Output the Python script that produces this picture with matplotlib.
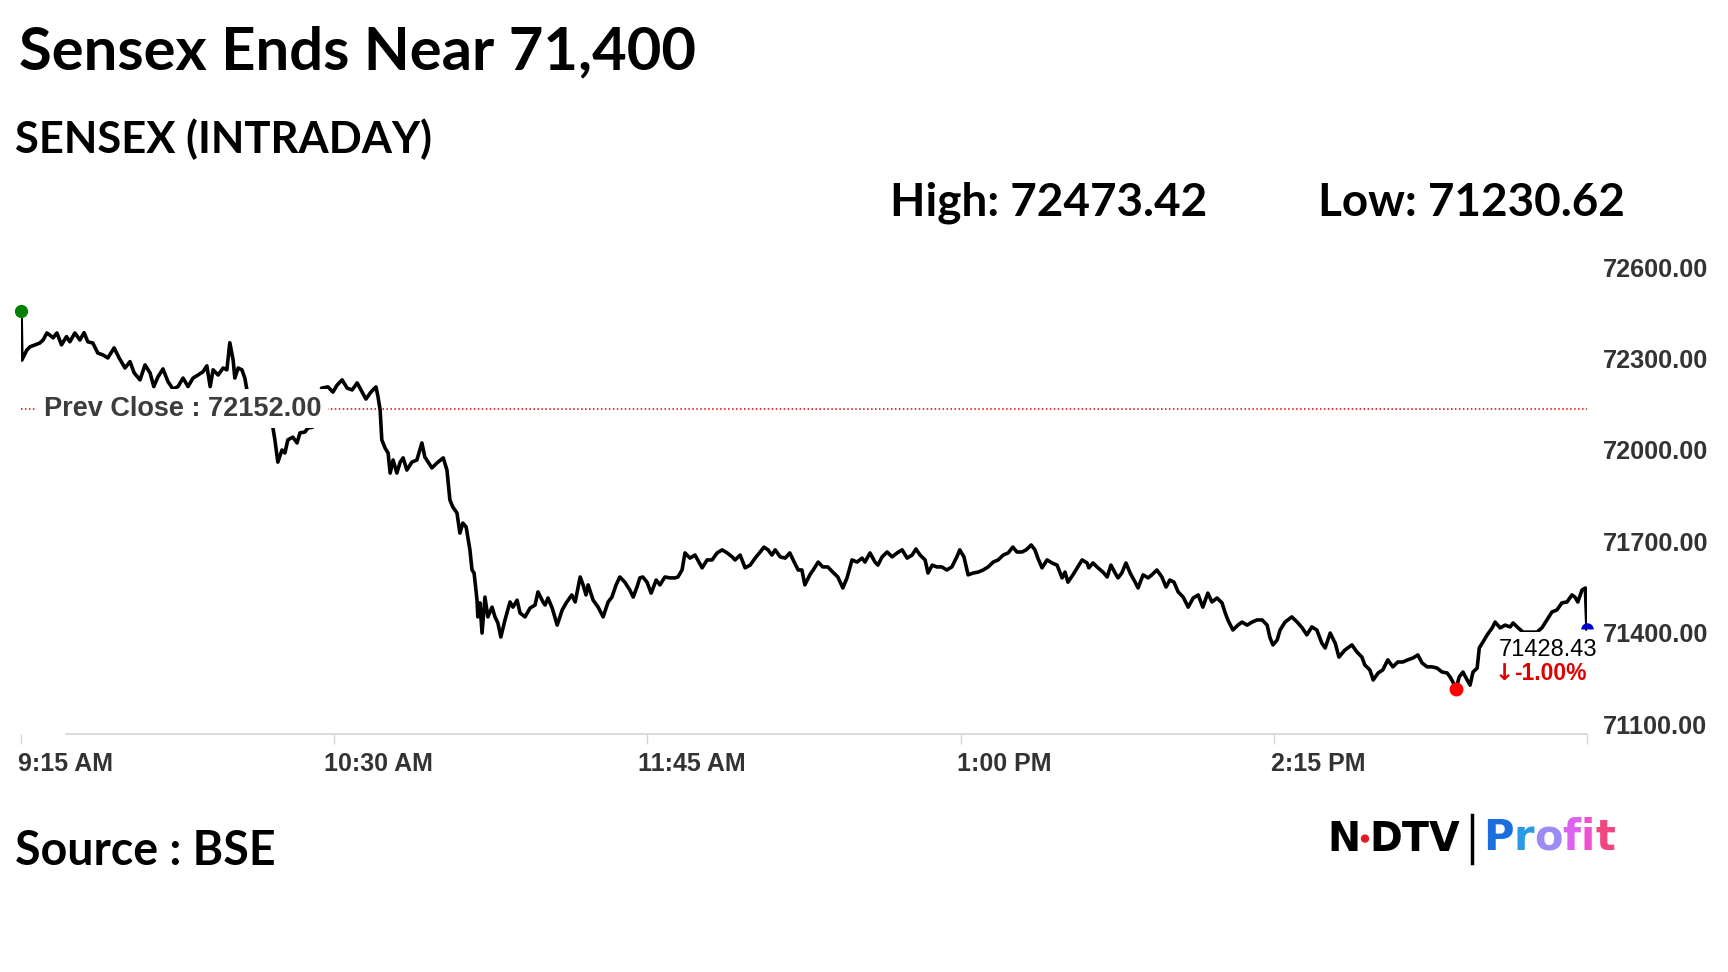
"""
Sensex intraday chart (NDTV Profit style).
"""
import matplotlib
matplotlib.use('Agg')
import numpy as np
import matplotlib.pyplot as plt
from matplotlib.transforms import ScaledTranslation
from matplotlib.offsetbox import TextArea, HPacker, DrawingArea, AnnotationBbox
from matplotlib.patches import Circle
from matplotlib.lines import Line2D

# minutes after the 9:15 open, and index level
mins = [
    0, 0.2, 1.4, 2.2, 3.4, 4.5, 5.3, 6.2, 6.9, 7.7,
    8.6, 9.7, 10.9, 11.7, 12.9, 14.1, 15.1, 16.0, 17.2, 18.4,
    19.6, 20.8, 22.3, 23.5, 24.9, 26.1, 27.1, 28.5, 29.7, 30.9,
    31.8, 32.8, 34.0, 35.2, 36.4, 37.6, 38.8, 40.0, 41.2, 42.4,
    43.6, 44.5, 45.3, 46.0, 47.2, 48.4, 49.3, 50.0, 50.8, 51.2,
    52.0, 52.9, 53.6, 54.1, 57.0, 60.3, 60.8, 61.5, 62.5, 63.2,
    63.9, 65.1, 66.1, 66.8, 68.0, 68.7, 69.9, 71.0, 72.0, 73.5,
    74.7, 75.7, 76.9, 78.1, 79.3, 80.5, 81.7, 82.6, 83.8, 85.0,
    85.5, 86.0, 86.4, 87.2, 87.9, 88.4, 89.1, 90.0, 90.8, 91.5,
    92.4, 93.6, 94.8, 96.0, 96.7, 97.5, 98.4, 99.6, 101.1, 102.0,
    102.7, 103.4, 104.4, 105.1, 105.8, 106.6, 107.5, 108.0, 108.5, 109.2,
    109.4, 109.9, 110.4, 111.1, 111.8, 112.8, 113.5, 114.2, 114.9, 115.9,
    117.1, 117.8, 118.8, 119.5, 120.7, 121.9, 123.1, 123.8, 125.0, 125.5,
    126.2, 127.2, 128.4, 129.6, 130.7, 131.9, 132.7, 133.9, 134.6, 135.3,
    135.8, 137.0, 138.2, 139.4, 140.6, 141.5, 142.5, 143.4, 144.6, 145.8,
    146.6, 147.5, 148.2, 148.9, 149.9, 150.9, 152.1, 153.0, 154.2, 155.4,
    156.6, 157.3, 158.3, 159.0, 160.2, 161.4, 163.1, 164.3, 165.5, 166.7,
    167.9, 169.1, 170.3, 171.0, 172.2, 173.4, 174.6, 175.8, 177.0, 177.9,
    178.9, 179.8, 180.6, 181.8, 183.0, 184.1, 184.9, 186.1, 187.0, 187.7,
    188.9, 189.7, 190.9, 192.0, 193.2, 194.4, 195.6, 196.8, 197.8, 199.0,
    200.2, 201.4, 202.1, 203.3, 204.5, 205.2, 206.2, 207.4, 208.6, 209.8,
    211.0, 212.2, 213.4, 214.3, 215.3, 216.5, 217.2, 218.2, 219.3, 220.5,
    221.7, 222.9, 224.1, 224.8, 225.8, 226.8, 228.0, 229.2, 230.4, 231.6,
    232.8, 234.0, 235.2, 236.4, 237.5, 238.5, 239.7, 240.7, 241.9, 242.8,
    243.5, 244.5, 245.7, 246.9, 248.1, 249.3, 250.0, 250.7, 251.9, 254.1,
    255.3, 255.7, 256.7, 257.9, 259.1, 260.1, 261.0, 262.0, 262.7, 263.6,
    264.6, 265.6, 266.8, 267.5, 268.7, 269.9, 270.8, 272.0, 273.2, 274.2,
    275.1, 276.1, 277.1, 278.3, 279.5, 280.7, 281.9, 283.0, 284.2, 285.2,
    286.4, 287.6, 288.3, 289.0, 290.2, 291.4, 292.4, 293.6, 294.8, 296.0,
    297.2, 298.4, 299.1, 299.8, 300.8, 301.5, 302.7, 304.3, 305.6, 306.8,
    307.9, 309.1, 310.3, 311.5, 312.3, 313.5, 314.7, 315.6, 317.0, 318.7,
    319.9, 321.1, 321.8, 323.0, 323.8, 325.0, 326.1, 327.3, 328.5, 329.7,
    330.9, 332.1, 333.3, 334.5, 335.5, 336.7, 337.9, 339.1, 340.3, 341.5,
    342.2, 342.9, 343.6, 344.4, 345.3, 346.3, 347.0, 347.7, 348.7, 349.2,
    350.1, 351.1, 352.3, 353.0, 354.2, 355.4, 356.6, 357.3, 358.5, 359.7,
    361.3, 363.0, 364.2, 365.4, 366.6, 367.8, 369.0, 370.2, 371.4, 372.1,
    372.8, 373.8, 374.6, 375.0,
]
sensex = [
    72473.42, 72311, 72344, 72355, 72361, 72367, 72377, 72400, 72393, 72384,
    72400, 72361, 72388, 72371, 72400, 72377, 72401, 72371, 72367, 72334,
    72328, 72318, 72351, 72318, 72285, 72306, 72269, 72246, 72295, 72269,
    72224, 72256, 72282, 72240, 72216, 72224, 72252, 72224, 72252, 72262,
    72273, 72292, 72224, 72279, 72262, 72285, 72279, 72368, 72311, 72252,
    72285, 72279, 72252, 72213, 72150, 72091, 72049, 71976, 72016, 72006,
    72049, 72058, 72039, 72072, 72075, 72088, 72091, 72150, 72219, 72223,
    72206, 72229, 72246, 72219, 72213, 72236, 72206, 72183, 72206, 72223,
    72190, 72147, 72049, 72022, 72006, 71940, 71983, 71940, 71976, 71990,
    71950, 71976, 71983, 72039, 71993, 71976, 71957, 71973, 71990, 71950,
    71852, 71829, 71809, 71743, 71776, 71763, 71688, 71622, 71612, 71523,
    71468, 71514, 71415, 71533, 71468, 71500, 71468, 71448, 71402, 71458,
    71517, 71500, 71523, 71481, 71468, 71497, 71507, 71550, 71517, 71507,
    71530, 71497, 71441, 71491, 71517, 71540, 71517, 71599, 71573, 71540,
    71573, 71523, 71500, 71468, 71517, 71533, 71573, 71599, 71582, 71556,
    71533, 71566, 71596, 71599, 71582, 71546, 71589, 71573, 71599, 71596,
    71596, 71599, 71622, 71678, 71661, 71671, 71629, 71655, 71655, 71678,
    71688, 71678, 71665, 71655, 71671, 71629, 71638, 71661, 71681, 71697,
    71688, 71671, 71688, 71665, 71661, 71678, 71655, 71622, 71622, 71573,
    71606, 71622, 71648, 71632, 71632, 71615, 71599, 71563, 71596, 71655,
    71648, 71661, 71648, 71678, 71648, 71638, 71665, 71681, 71665, 71678,
    71688, 71661, 71671, 71691, 71671, 71655, 71612, 71638, 71632, 71632,
    71622, 71632, 71665, 71688, 71665, 71606, 71612, 71615, 71622, 71632,
    71648, 71655, 71671, 71678, 71697, 71681, 71681, 71688, 71704, 71688,
    71661, 71629, 71655, 71645, 71638, 71596, 71615, 71582, 71606, 71655,
    71645, 71629, 71645, 71629, 71615, 71599, 71638, 71612, 71596, 71612,
    71645, 71612, 71582, 71563, 71606, 71596, 71606, 71622, 71599, 71566,
    71589, 71582, 71550, 71533, 71500, 71530, 71540, 71500, 71546, 71517,
    71530, 71514, 71484, 71458, 71425, 71441, 71451, 71441, 71451, 71458,
    71458, 71441, 71399, 71376, 71392, 71425, 71451, 71468, 71451, 71432,
    71409, 71435, 71425, 71382, 71366, 71415, 71382, 71336, 71359, 71376,
    71353, 71336, 71310, 71294, 71261, 71284, 71294, 71327, 71304, 71320,
    71320, 71327, 71333, 71343, 71317, 71304, 71304, 71300, 71287, 71284,
    71271, 71254, 71230.62, 71271, 71287, 71261, 71244, 71287, 71300, 71366,
    71386, 71409, 71432, 71451, 71432, 71441, 71435, 71448, 71432, 71418,
    71418, 71418, 71432, 71458, 71484, 71491, 71514, 71517, 71540, 71533,
    71517, 71556, 71563, 71428.43,
]
prev_close = 72152.00

tick_mins = [0, 75, 150, 225, 300, 375]
tick_labels = ['9:15 AM', '10:30 AM', '11:45 AM', '1:00 PM', '2:15 PM', '']
price_ticks = [71100, 71400, 71700, 72000, 72300, 72600]

profit_colors = ['#1a6ee0', '#2a9ae6', '#9a8cf3', '#dc62f0', '#f24ed2', '#f0477e']


def plot_sensex():
    plt.rcParams['font.family'] = ['Liberation Sans', 'DejaVu Sans']
    W, H = 1728, 972
    fig = plt.figure(figsize=(W / 100, H / 100), dpi=100)
    fig.patch.set_facecolor('white')

    def fx(px):
        return px / W

    def fy(py):
        return 1 - py / H

    ax = fig.add_axes([fx(21), fy(734), fx(1587) - fx(21), fy(260) - fy(734)])
    ax.set_xlim(0, 375)
    ax.set_ylim(71083.6, 72639.5)

    x = np.array(mins)
    y = np.array(sensex)
    last = y[-1]
    i_low = int(np.argmin(y))

    ax.plot(x, y, color='black', lw=2.6, zorder=3)
    ax.axhline(prev_close, color='#e00000', lw=1.1, ls=(0, (1, 1.6)), zorder=2)
    ax.text(5.5, prev_close, f'Prev Close : {prev_close:.2f}', fontsize=19.5,
            fontweight='bold', color='#3c3c3c', ha='left', va='center', zorder=6,
            bbox=dict(boxstyle='square,pad=0.25', fc='white', ec='none'))

    # markers: open, day low, close
    ax.plot(x[0], y[0], 'o', color='#008000', ms=8.5, clip_on=False, zorder=5)
    ax.plot(x[i_low], y[i_low], 'o', color='#ff0000', ms=9, clip_on=False, zorder=5)
    ax.plot(x[-1], last, marker='o', fillstyle='top', color='#0000cc', mew=0,
            ms=9, clip_on=False, zorder=5)

    change = (last - prev_close) / prev_close * 100
    ax.annotate(f'{last:.2f}', xy=(x[-1], last), xytext=(10, -21),
                textcoords='offset pixels', ha='right', va='center', fontsize=17,
                color='black', zorder=6, annotation_clip=False,
                bbox=dict(boxstyle='square,pad=0.3', fc='white', ec='none'))
    ax.annotate(f'{change:.2f}%', xy=(x[-1], last), xytext=(0, -45),
                textcoords='offset pixels', ha='right', va='center', fontsize=16.5,
                fontweight='bold', color='#e00000', zorder=6, annotation_clip=False)
    ax.annotate('\u2193', xy=(x[-1], last), xytext=(-73, -45),
                textcoords='offset pixels', ha='right', va='center', fontsize=16.5,
                fontweight='bold', family='DejaVu Sans', color='#e00000', zorder=6,
                annotation_clip=False)

    # axes styling
    for s in ['top', 'left', 'right']:
        ax.spines[s].set_visible(False)
    ax.spines['bottom'].set_color('#d6d6d6')
    ax.spines['bottom'].set_linewidth(1.2)
    ax.spines['bottom'].set_bounds(10.8, 375)

    ax.set_xticks(tick_mins)
    ax.set_xticklabels(tick_labels)
    ax.tick_params(axis='x', length=7, width=1, color='#d6d6d6', pad=6,
                   labelsize=18, labelcolor='#333333')
    ax.yaxis.tick_right()
    ax.set_yticks(price_ticks)
    ax.set_yticklabels([f'{v:.2f}' for v in price_ticks])
    ax.tick_params(axis='y', length=0, pad=11.5, labelsize=18.2, labelcolor='#333333')
    for lbl in ax.get_xticklabels():
        lbl.set_fontweight('bold')
        lbl.set_transform(lbl.get_transform() + ScaledTranslation(0.44, 0, fig.dpi_scale_trans))
    for lbl in ax.get_yticklabels():
        lbl.set_fontweight('bold')
        lbl.set_transform(lbl.get_transform() + ScaledTranslation(0, 0.05, fig.dpi_scale_trans))

    # headings
    head = dict(family=['Lato', 'DejaVu Sans'], fontweight='bold', color='black', va='baseline')
    fig.text(fx(19), fy(69.5), 'Sensex Ends Near 71,400', fontsize=43, **head)
    fig.text(fx(15), fy(153), 'SENSEX (INTRADAY)', fontsize=31.3, **head)
    fig.text(fx(890), fy(216), f'High: {y.max():.2f}', fontsize=33, **head)
    fig.text(fx(1318), fy(216), f'Low: {y.min():.2f}', fontsize=33, **head)
    fig.text(fx(15), fy(865), 'Source : BSE', fontsize=33.5, **head)

    # logo
    logo_font = dict(family='DejaVu Sans', fontweight='bold', fontsize=28.5, color='black')
    dot = DrawingArea(7, 24, 0, 0)
    dot.add_artist(Circle((3.5, 13), 3.0, fc='#e31b23', ec='none'))
    ndtv = HPacker(children=[TextArea('N', textprops=logo_font), dot,
                             TextArea('DTV', textprops=logo_font)],
                   sep=0, pad=0, align='center')
    fig.add_artist(AnnotationBbox(ndtv, (fx(1327), fy(840)), xycoords='figure fraction',
                                  box_alignment=(0, 0.5), frameon=False, pad=0))
    fig.add_artist(Line2D([fx(1472), fx(1472)], [fy(815), fy(863)], color='black',
                          lw=2.5, transform=fig.transFigure))
    letters = [TextArea(ch, textprops=dict(family='DejaVu Sans', fontweight='bold',
                                           fontsize=30, color=c))
               for ch, c in zip('Profit', profit_colors)]
    profit = HPacker(children=letters, sep=0, pad=0, align='baseline')
    fig.add_artist(AnnotationBbox(profit, (fx(1483), fy(838)), xycoords='figure fraction',
                                  box_alignment=(0, 0.5), frameon=False, pad=0))

    fig.savefig('out.png', dpi=100)


if __name__ == '__main__':
    plot_sensex()
